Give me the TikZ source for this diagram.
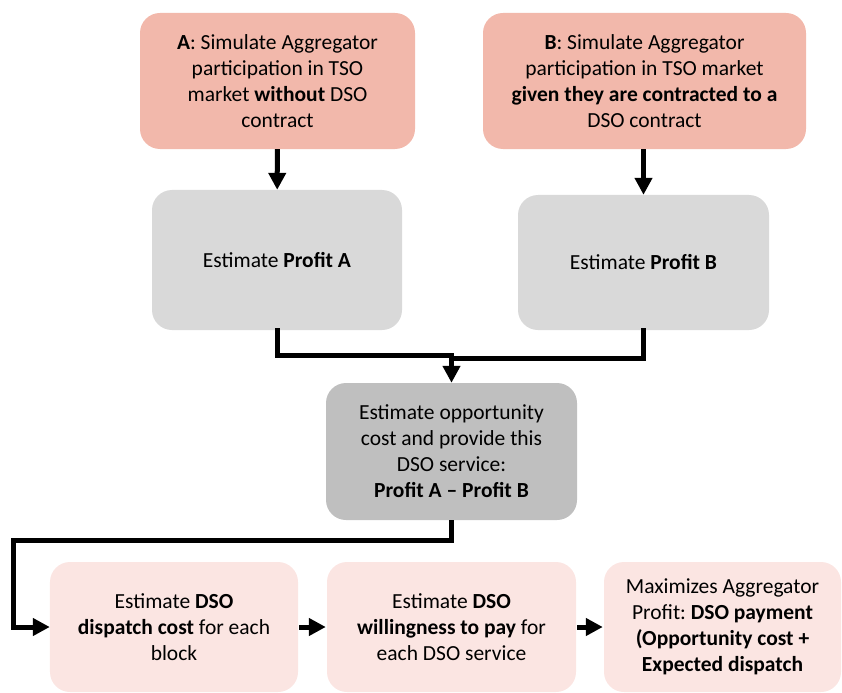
\documentclass[tikz,border=0pt]{standalone}
\usepackage{fontspec}
\setmainfont{Carlito}
\usepackage{tikz}
\usepackage{xcolor}
\usetikzlibrary{
    arrows.meta,
    calc,
    positioning
}

\definecolor{salmon}{HTML}{F2B8AB}
\definecolor{lightgrey}{HTML}{D9D9D9}
\definecolor{midgrey}{HTML}{BFBFBF}
\definecolor{palepink}{HTML}{FBE5E2}

\frenchspacing

\begin{document}
\begin{tikzpicture}[
                        x=1bp, y=-1bp,
                        box/.style={rounded corners=20bp, align=center, inner sep=0pt,
                            font=\fontsize{21.5bp}{26bp}\selectfont},
                        flow/.style={line width=5bp, -{Triangle[width=17bp, length=17bp]}},
                        link/.style={line width=5bp}
                    ]
                        \useasboundingbox (0, 0) rectangle (842, 693);
                        \clip (0, 0) rectangle (842, 693);

                        \node[box, fill=salmon, minimum width=275bp, minimum height=136bp]
                            (simA) at (277.5, 81) {\textbf{A}: Simulate Aggregator\\participation in TSO\\market \textbf{without} DSO\\contract};
                        \node[box, fill=salmon, minimum width=323bp, minimum height=136bp]
                            (simB) at (644.5, 81) {\textbf{B}: Simulate Aggregator\\participation in TSO market\\\textbf{given they are contracted to a}\\DSO contract};

                        \node[box, fill=lightgrey, minimum width=250bp, minimum height=140bp]
                            (profA) at (277, 260) {Estimate \textbf{Profit A}};
                        \node[box, fill=lightgrey, minimum width=251bp, minimum height=135bp]
                            (profB) at (643.5, 262.5) {Estimate \textbf{Profit B}};

                        \node[box, fill=midgrey, minimum width=251bp, minimum height=137bp]
                            (opp) at (451.5, 451.5) {Estimate opportunity\\cost and provide this\\DSO service:\\\textbf{Profit A -- Profit B}};

                        \node[box, fill=palepink, minimum width=248bp, minimum height=130bp]
                            (disp) at (174, 627) {Estimate \textbf{DSO}\\\textbf{dispatch cost} for each\\block};
                        \node[box, fill=palepink, minimum width=249bp, minimum height=130bp]
                            (wtp) at (451.5, 627) {Estimate \textbf{DSO}\\\textbf{willingness to pay} for\\each DSO service};
                        \node[box, fill=palepink, minimum width=237bp, minimum height=130bp]
                            (pay) at (722.5, 627) {Maximizes Aggregator\\Profit: \textbf{DSO payment}\\\textbf{(Opportunity cost +}\\\textbf{Expected dispatch}};

                        \coordinate (joinA) at (profA.south |- 0, 355);
                        \coordinate (joinB) at (profB.south |- 0, 358);
                        \coordinate (merge) at (opp.north |- joinA);
                        \coordinate (turnR) at (opp.south |- 0, 540);
                        \coordinate (turnL) at (13, 540);
                        \coordinate (turnD) at (13, 627);

                        \draw[flow] (simA) -- (profA);
                        \draw[flow] (simB.south -| profB.north) -- (profB.north);

                        \draw[link, line cap=rect] (profA.south) -- (joinA) -- (merge);
                        \draw[link, line cap=rect] (profB.south) -- (joinB) -- (joinB -| opp.north);
                        \draw[flow] ($(merge) + (0, -2)$) -- (opp.north);

                        \draw[flow, line join=miter] (opp.south) -- (turnR) -- (turnL) -- (turnD) -- (disp.west);
                        \draw[flow, shorten <=1bp, shorten >=1bp] (disp.east) -- (wtp.west);
                        \draw[flow, shorten <=1bp, shorten >=1bp] (wtp.east) -- (pay.west);
                    \end{tikzpicture}
\end{document}
